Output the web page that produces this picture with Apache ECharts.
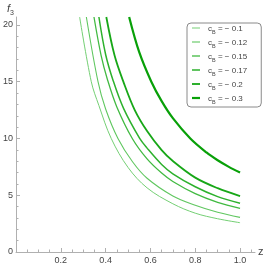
<!DOCTYPE html>
<html>
<head>
<meta charset="utf-8">
<script src="https://cdn.jsdelivr.net/npm/echarts@6/dist/echarts.min.js"></script>
<style>html,body{margin:0;padding:0;background:#fff}#c{width:267px;height:267px}</style>
</head>
<body>
<div id="c"></div>
<script>
// Series labels (c_B values)
const seriesNames = ['c_B = − 0.1', 'c_B = − 0.12', 'c_B = − 0.15', 'c_B = − 0.17', 'c_B = − 0.2', 'c_B = − 0.3'];
const legendLabels = ['− 0.1', '− 0.12', '− 0.15', '− 0.17', '− 0.2', '− 0.3'];

// Values (z, f3)
const z_01  = [0.284, 0.336, 0.37, 0.425, 0.5, 0.585, 0.7, 0.8, 0.9, 1.0];
const f_01  = [20.7, 15.0, 12.9, 10.0, 7.45, 5.65, 4.25, 3.42, 2.93, 2.58];
const z_012 = [0.314, 0.366, 0.4, 0.455, 0.52, 0.585, 0.7, 0.8, 0.9, 1.0];
const f_012 = [20.7, 15.0, 12.6, 10.0, 7.95, 6.5, 4.94, 4.12, 3.5, 3.05];
const z_015 = [0.348, 0.38, 0.408, 0.45, 0.519, 0.585, 0.65, 0.7, 0.8, 0.9, 1.0];
const f_015 = [20.7, 17.3, 15.2, 12.78, 10.0, 8.2, 6.95, 6.21, 5.14, 4.38, 3.85];
const z_017 = [0.37, 0.4, 0.434, 0.48, 0.552, 0.585, 0.65, 0.7, 0.8, 0.9, 1.0];
const f_017 = [20.7, 17.4, 15.07, 12.65, 10.0, 9.15, 7.71, 6.89, 5.75, 4.88, 4.29];
const z_02  = [0.403, 0.44, 0.481, 0.53, 0.585, 0.65, 0.7, 0.8, 0.9, 1.0];
const f_02  = [20.7, 17.3, 14.9, 12.5, 10.65, 8.97, 8.01, 6.55, 5.62, 4.93];
const z_03  = [0.505, 0.55, 0.604, 0.65, 0.7, 0.778, 0.85, 0.9, 0.95, 1.0];
const f_03  = [20.7, 17.6, 15.0, 13.29, 11.79, 10.0, 8.77, 8.08, 7.5, 7.0];

// Tick values
const xMajor = [0.2, 0.4, 0.6, 0.8, 1.0];
const xMinor = [0.05, 0.1, 0.15, 0.25, 0.3, 0.35, 0.45, 0.5, 0.55, 0.65, 0.7, 0.75, 0.85, 0.9, 0.95, 1.05];
const yMajor = [0, 5, 10, 15, 20];
const yMinor = [1, 2, 3, 4, 6, 7, 8, 9, 11, 12, 13, 14, 16, 17, 18, 19];

const zs = [z_01, z_012, z_015, z_017, z_02, z_03];
const fs = [f_01, f_012, f_015, f_017, f_02, f_03];
const colors = ['#74cf74', '#60c760', '#42ba42', '#2db12d', '#17a717', '#08a008'];
const widths = [1, 1.1, 1.3, 1.5, 1.8, 2.2];

const axisGray = '#b0b0b0';
const labelColor = '#444';
const font = 'Liberation Sans, Arial, sans-serif';

const series = zs.map((zz, i) => ({
  name: seriesNames[i],
  type: 'line',
  xAxisIndex: 0, yAxisIndex: 0,
  data: zz.map((z, k) => [z, fs[i][k]]),
  symbol: 'none',
  showSymbol: false,
  smooth: 0.35,
  lineStyle: { color: colors[i], width: widths[i] },
  itemStyle: { color: colors[i] },
  clip: true,
  z: 3
}));

const legendData = seriesNames.map((n, i) => ({
  name: n,
  icon: 'path://M0,0H8V' + widths[i] + 'H0Z',
  itemStyle: { color: colors[i], borderWidth: 0 }
}));

const chart = echarts.init(document.getElementById('c'), null, { renderer: 'canvas' });
chart.setOption({
  animation: false,
  backgroundColor: '#fff',
  grid: { left: 15, right: 12, top: 17, bottom: 15, containLabel: false },
  xAxis: [
    {
      type: 'value', min: 0, max: 1.0667, position: 'bottom',
      name: 'z', nameLocation: 'end', nameGap: 3,
      nameTextStyle: { color: labelColor, fontSize: 11, fontFamily: font, verticalAlign: 'middle' },
      axisLine: { show: true, onZero: false, lineStyle: { color: axisGray, width: 1 } },
      axisTick: { show: true, inside: true, length: 4, customValues: xMajor, lineStyle: { color: axisGray } },
      axisLabel: { show: true, customValues: xMajor, margin: 4, color: labelColor, fontSize: 9, fontFamily: font,
                   formatter: v => Number(v).toFixed(1) },
      splitLine: { show: false }
    },
    {
      type: 'value', min: 0, max: 1.0667, position: 'bottom',
      axisLine: { show: false },
      axisTick: { show: true, inside: true, length: 2.5, customValues: xMinor, lineStyle: { color: axisGray } },
      axisLabel: { show: false },
      splitLine: { show: false }
    }
  ],
  yAxis: [
    {
      type: 'value', min: 0, max: 20.7, position: 'left',
      name: '{f|f}{s|3}', nameLocation: 'end', nameGap: 3,
      nameTextStyle: {
        align: 'right', padding: [0, 2, 0, 0],
        rich: {
          f: { fontStyle: 'italic', fontSize: 11, color: labelColor, fontFamily: font, verticalAlign: 'bottom', lineHeight: 12 },
          s: { fontSize: 7, color: labelColor, fontFamily: font, verticalAlign: 'bottom', lineHeight: 9, padding: [0, 0, -3, 0] }
        }
      },
      axisLine: { show: true, onZero: false, lineStyle: { color: axisGray, width: 1 } },
      axisTick: { show: true, inside: true, length: 4, customValues: yMajor, lineStyle: { color: axisGray } },
      axisLabel: { show: true, customValues: yMajor, margin: 3, color: labelColor, fontSize: 9, fontFamily: font },
      splitLine: { show: false }
    },
    {
      type: 'value', min: 0, max: 20.7, position: 'left',
      axisLine: { show: false },
      axisTick: { show: true, inside: true, length: 2.5, customValues: yMinor, lineStyle: { color: axisGray } },
      axisLabel: { show: false },
      splitLine: { show: false }
    }
  ],
  legend: {
    show: true, orient: 'vertical', left: 187, top: 23,
    data: legendData,
    backgroundColor: '#fff',
    borderColor: '#8a8a8a', borderWidth: 1, borderRadius: 4,
    padding: [2, 14, 2, 5],
    itemWidth: 8, itemHeight: 10, itemGap: 4,
    selectedMode: false,
    formatter: name => '{c|c}{b|B}{t| = ' + legendLabels[seriesNames.indexOf(name)] + '}',
    textStyle: {
      color: labelColor, fontFamily: font, fontSize: 8, padding: [0, 0, 0, 3],
      rich: {
        c: { fontSize: 8, color: labelColor, fontFamily: font, lineHeight: 10, verticalAlign: 'bottom' },
        b: { fontSize: 5.5, color: labelColor, fontFamily: font, lineHeight: 8, verticalAlign: 'bottom', padding: [0, 0, -2, 0] },
        t: { fontSize: 8, color: labelColor, fontFamily: font, lineHeight: 10, verticalAlign: 'bottom' }
      }
    }
  },
  series: series
});
</script>
</body>
</html>
